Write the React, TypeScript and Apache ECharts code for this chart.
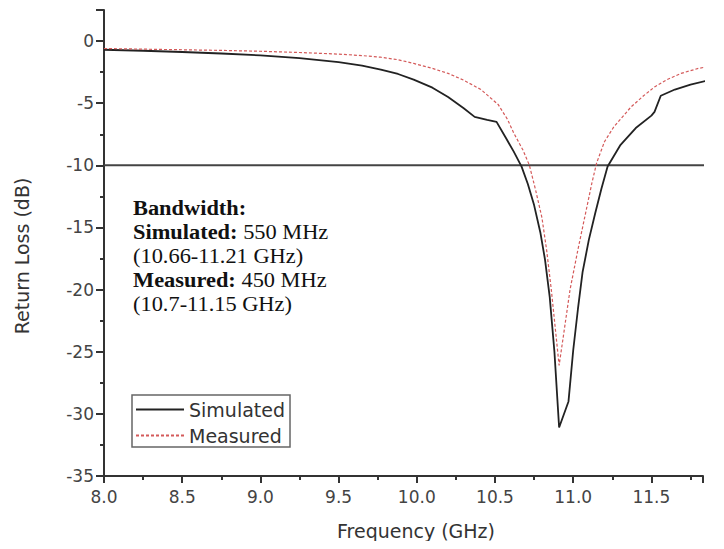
import React, { useEffect, useRef } from "react";
import * as echarts from "echarts";

const simulated: [number, number][] = [
  [8.0, -0.7], [8.25, -0.78], [8.5, -0.88], [8.75, -1.0], [9.0, -1.15], [9.25, -1.38],
  [9.5, -1.7], [9.65, -1.98], [9.77, -2.3], [9.88, -2.65], [9.98, -3.1], [10.1, -3.75],
  [10.2, -4.5], [10.3, -5.4], [10.37, -6.1], [10.45, -6.35], [10.51, -6.5], [10.57, -7.8],
  [10.62, -8.9], [10.67, -10.1], [10.71, -11.5], [10.75, -13.2], [10.79, -15.4], [10.82, -17.6],
  [10.85, -20.6], [10.88, -25.0], [10.91, -31.1], [10.97, -29.0], [11.0, -24.9], [11.03, -21.6],
  [11.06, -18.6], [11.1, -16.0], [11.14, -13.9], [11.18, -11.9], [11.22, -10.1], [11.3, -8.4],
  [11.4, -7.0], [11.5, -6.0], [11.52, -5.7], [11.56, -4.4], [11.65, -3.9], [11.75, -3.5],
  [11.85, -3.2], [11.97, -3.0],
];

const measured: [number, number][] = [
  [8.0, -0.6], [8.25, -0.65], [8.5, -0.7], [8.75, -0.75], [9.0, -0.82], [9.25, -0.92],
  [9.5, -1.05], [9.65, -1.17], [9.77, -1.3], [9.88, -1.5], [9.98, -1.8], [10.1, -2.2],
  [10.2, -2.6], [10.3, -3.15], [10.41, -3.9], [10.52, -5.1], [10.58, -6.3], [10.62, -7.4],
  [10.68, -8.8], [10.72, -10.0], [10.76, -12.0], [10.8, -14.2], [10.83, -16.8], [10.86, -20.0],
  [10.91, -26.1], [10.94, -23.5], [10.98, -20.0], [11.03, -16.8], [11.08, -13.8], [11.12, -11.4],
  [11.15, -9.8], [11.2, -8.1], [11.26, -6.9], [11.37, -5.3], [11.45, -4.4], [11.52, -3.7],
  [11.6, -3.1], [11.69, -2.6], [11.8, -2.2], [11.97, -1.8],
];

const threshold: [number, number][] = [
  [8.0, -10],
  [11.97, -10],
];

const seriesNames = ["Simulated", "Measured"];
const annotationLines = [
  "{b|Bandwidth:}",
  "{b|Simulated:}{r| 550 MHz}",
  "{r|(10.66-11.21 GHz)}",
  "{b|Measured:}{r| 450 MHz}",
  "{r|(10.7-11.15 GHz)}",
];

const SANS = "'DejaVu Sans', Arial, sans-serif";
const SERIF = "'Liberation Serif', 'Times New Roman', serif";

export default function App() {
  const ref = useRef<HTMLDivElement>(null);

  useEffect(() => {
    if (!ref.current) return;
    const chart = echarts.init(ref.current, undefined, { renderer: "svg" });
    chart.setOption({
      animation: false,
      backgroundColor: "#ffffff",
      grid: { left: 104, right: 21, top: 10, bottom: 73, containLabel: false },
      xAxis: {
        type: "value",
        min: 8,
        max: 11.83,
        interval: 0.5,
        axisLine: { show: true, onZero: false, lineStyle: { color: "#333", width: 2 } },
        axisTick: { show: true, inside: false, length: 7, lineStyle: { color: "#333", width: 2 } },
        minorTick: { show: true, splitNumber: 2, length: 4, lineStyle: { color: "#333", width: 2 } },
        splitLine: { show: false },
        axisLabel: {
          color: "#444",
          fontSize: 17,
          fontFamily: SANS,
          margin: 12,
          formatter: (v: number) =>
            Math.abs(v * 2 - Math.round(v * 2)) < 1e-6 ? v.toFixed(1) : "",
        },
      },
      yAxis: {
        type: "value",
        min: -35,
        max: 2.5,
        interval: 5,
        axisLine: { show: true, onZero: false, lineStyle: { color: "#333", width: 2 } },
        axisTick: { show: true, inside: false, length: 8, lineStyle: { color: "#333", width: 2 } },
        minorTick: { show: true, splitNumber: 2, length: 4, lineStyle: { color: "#333", width: 2 } },
        splitLine: { show: false },
        axisLabel: {
          color: "#444",
          fontSize: 17,
          fontFamily: SANS,
          margin: 10,
          formatter: (v: number) => (v > 0.1 ? "" : String(v)),
        },
      },
      legend: {
        data: seriesNames,
        orient: "vertical",
        left: 132,
        top: 395,
        padding: [5, 5, 2, 3],
        itemGap: 7,
        itemWidth: 48,
        itemHeight: 20,
        borderColor: "#666",
        borderWidth: 1.5,
        itemStyle: { opacity: 0 },
        textStyle: { fontSize: 19, fontFamily: SANS, color: "#333" },
      },
      graphic: [
        {
          type: "text",
          x: 133,
          y: 196,
          scaleX: 1.12,
          style: {
            text: annotationLines.join("\n"),
            lineHeight: 24,
            rich: {
              b: { fontFamily: SERIF, fontWeight: "bold", fontSize: 20, fill: "#111", lineHeight: 24 },
              r: { fontFamily: SERIF, fontSize: 20, fill: "#111", lineHeight: 24 },
            },
          },
        },
        {
          type: "text",
          x: 22,
          y: 256,
          rotation: Math.PI / 2,
          style: {
            text: "Return Loss (dB)",
            fontFamily: SANS,
            fontSize: 19,
            fill: "#333",
            align: "center",
            verticalAlign: "middle",
          },
        },
        {
          type: "text",
          x: 416,
          y: 531,
          style: {
            text: "Frequency (GHz)",
            fontFamily: SANS,
            fontSize: 19,
            fill: "#333",
            align: "center",
            verticalAlign: "middle",
          },
        },
      ],
      series: [
        {
          name: "threshold",
          type: "line",
          data: threshold,
          symbol: "none",
          clip: false,
          silent: true,
          lineStyle: { color: "#444", width: 2 },
          z: 1,
        },
        {
          name: "Simulated",
          type: "line",
          data: simulated,
          symbol: "none",
          clip: false,
          lineStyle: { color: "#222", width: 1.8 },
          itemStyle: { color: "#222" },
          z: 3,
        },
        {
          name: "Measured",
          type: "line",
          data: measured,
          symbol: "none",
          clip: false,
          lineStyle: { color: "#d45a5a", width: 1.2, type: [3, 2] },
          itemStyle: { color: "#d45a5a" },
          z: 4,
        },
      ],
    });
    return () => chart.dispose();
  }, []);

  return <div ref={ref} style={{ width: 724, height: 549, margin: -8 }} />;
}
